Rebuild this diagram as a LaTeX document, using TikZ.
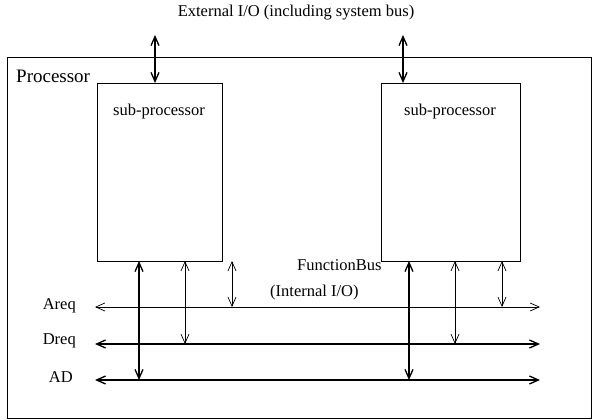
\documentclass[tikz,border=0pt]{standalone}
\usepackage{fontspec}
\setmainfont{Liberation Serif}
\usetikzlibrary{arrows.meta}
\begin{document}
\begin{tikzpicture}[x=1pt,y=-1pt,
  box/.style={draw,line width=1.1pt,minimum width=#1,anchor=north west,inner sep=0pt},
  lbl/.style={font=\fontsize{16.5}{18}\selectfont,inner sep=0pt},
  dbl/.style={{Straight Barb[length=9pt,width=8pt]}-{Straight Barb[length=9pt,width=8pt]}},
  thk/.style={line width=1.3pt},
  thn/.style={line width=0.7pt}]
\useasboundingbox (0,0) rectangle (592,420);
% outer processor box
\node[draw,line width=0.8pt,minimum width=584pt,minimum height=361pt,anchor=north west,inner sep=0pt] (proc) at (7,57) {};
\node[anchor=west,inner sep=0pt,font=\fontsize{19}{21}\selectfont] (ptext) at (16,76) {Processor};
\node[lbl] (ext) at (296,13) {External I/O (including system bus)};
% sub-processors
\node[box=125pt,minimum height=178pt] (s1) at (97,83) {};
\node[box=139pt,minimum height=178pt] (s2) at (381,83) {};
\node[lbl] (s1t) at (159,112) {sub-processor};
\node[lbl] (s2t) at (450,112) {sub-processor};
% external coordinates
\coordinate (e1) at (155,35);
\coordinate (e2) at (403,35);
\draw[thk,dbl] (e1) -- (s1.north west -| e1);
\draw[thk,dbl] (e2) -- (s2.north west -| e2);
% bus ends
\coordinate (aL) at (95,307); \coordinate (aR) at (540,307);
\coordinate (dL) at (95,344); \coordinate (dR) at (540,344);
\coordinate (adL) at (95,380); \coordinate (adR) at (540,380);
\draw[thn,dbl] (aL) -- (aR);
\draw[thk,dbl] (dL) -- (dR);
\draw[thk,dbl] (adL) -- (adR);
% labels
\node[lbl,anchor=east] (la) at (76,306) {Areq};
\node[lbl,anchor=east] (ld) at (76,341) {Dreq};
\node[lbl,anchor=east] (lad) at (73,377) {AD};
\node[lbl,anchor=west] (fb) at (297,265) {FunctionBus};
\node[lbl,anchor=west] (ii) at (270,293) {(Internal I/O)};
% vertical connectors
\coordinate (v1) at (139,261); \coordinate (v2) at (185,261); \coordinate (v3) at (232,261);
\coordinate (v4) at (409,261); \coordinate (v5) at (455,261); \coordinate (v6) at (502,261);
\draw[thk,dbl] (v1) -- (v1 |- adL);
\draw[thn,dbl] (v2) -- (v2 |- dL);
\draw[thn,dbl] (v3) -- (v3 |- aL);
\draw[thk,dbl] (v4) -- (v4 |- adL);
\draw[thn,dbl] (v5) -- (v5 |- dL);
\draw[thn,dbl] (v6) -- (v6 |- aL);
\end{tikzpicture}
\end{document}
